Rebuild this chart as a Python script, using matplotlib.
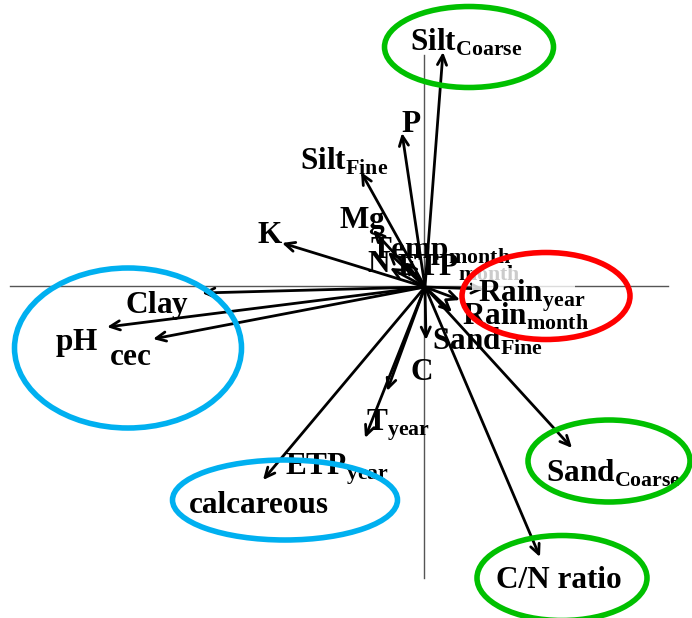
import matplotlib
matplotlib.use("Agg")
import matplotlib.pyplot as plt
from matplotlib.patches import Ellipse, Rectangle

plt.rcParams["mathtext.fontset"] = "custom"
plt.rcParams["mathtext.bf"] = "Liberation Serif:bold"
plt.rcParams["mathtext.rm"] = "Liberation Serif:bold"
plt.rcParams["font.family"] = "Liberation Serif"

# Variable loadings on the first two axes (arbitrary biplot units)
variables = ["Silt_Coarse", "P", "Silt_Fine", "Mg", "K", "Temp_month", "N",
             "ETP_month", "Clay", "pH", "cec", "Rain_year", "Rain_month",
             "Sand_Fine", "C", "T_year", "T_min", "ETP_year", "Sand_Coarse", "CN"]
axis1 = [0.18, -0.23, -0.64, -0.52, -1.43, -0.37, -0.35, -0.20, -2.23, -3.18,
         -2.72, 0.59, 0.35, 0.27, 0.01, -0.60, -0.38, -1.62, 1.47, 1.15]
axis2 = [2.35, 1.54, 1.15, 0.57, 0.44, 0.35, 0.19, 0.25, -0.06, -0.40,
         -0.52, -0.02, -0.13, -0.25, -0.53, -1.51, -1.04, -1.93, -1.61, -2.70]

# Label text and anchor (left, baseline) for each variable
labels = {
    "Silt_Coarse": (r"$\mathbf{Silt}_{\mathbf{Coarse}}$", (-0.15, 2.36)),
    "P": (r"$\mathbf{P}$", (-0.24, 1.55)),
    "Silt_Fine": (r"$\mathbf{Silt}_{\mathbf{Fine}}$", (-1.25, 1.17)),
    "Mg": (r"$\mathbf{Mg}$", (-0.86, 0.59)),
    "K": (r"$\mathbf{K}$", (-1.68, 0.44)),
    "Temp_month": (r"$\mathbf{Temp}_{\mathbf{month}}$", (-0.55, 0.29)),
    "N": (r"$\mathbf{N}$", (-0.58, 0.15)),
    "ETP_month": (r"$\mathbf{ETP}_{\mathbf{month}}$", (-0.28, 0.11)),
    "Clay": (r"$\mathbf{Clay}$", (-3.00, -0.26)),
    "pH": (r"$\mathbf{pH}$", (-3.70, -0.63)),
    "cec": (r"$\mathbf{cec}$", (-3.16, -0.78)),
    "Rain_year": (r"$\mathbf{Rain}_{\mathbf{year}}$", (0.53, -0.15)),
    "Rain_month": (r"$\mathbf{Rain}_{\mathbf{month}}$", (0.37, -0.38)),
    "Sand_Fine": (r"$\mathbf{Sand}_{\mathbf{Fine}}$", (0.07, -0.63)),
    "C": (r"$\mathbf{C}$", (-0.15, -0.93)),
    "T_year": (r"$\mathbf{T}_{\mathbf{year}}$", (-0.59, -1.44)),
    "T_min": ("", (0, 0)),
    "ETP_year": (r"$\mathbf{ETP}_{\mathbf{year}}$", (-1.40, -1.88)),
    "Sand_Coarse": (r"$\mathbf{Sand}_{\mathbf{Coarse}}$", (1.21, -1.95)),
    "CN": ("C/N ratio", (0.71, -3.01)),
}

# Highlighted groups: centre, width, height, colour, extra text
groups = [
    ((0.44, 2.40), 1.69, 0.81, "#00c000", None),
    ((1.21, -0.09), 1.68, 0.87, "#ff0000", None),
    ((-2.97, -0.61), 2.27, 1.60, "#00b0f0", None),
    ((-1.40, -2.13), 2.25, 0.80, "#00b0f0", ("calcareous", (-2.36, -2.26))),
    ((1.84, -1.74), 1.62, 0.82, "#00c000", None),
    ((1.37, -2.91), 1.70, 0.85, "#00c000", None),
]

fig = plt.figure(figsize=(6.92, 6.18), dpi=100)
ax = fig.add_axes([0, 0, 1, 1])
ax.set_xlim(-4.25, 2.67)
ax.set_ylim(-3.31, 2.87)
ax.axis("off")

# Axes through the origin
ax.plot([-4.15, 2.43], [0.01, 0.01], color="#555555", lw=1.0, zorder=1)
ax.plot([-0.01, -0.01], [2.32, -2.91], color="#555555", lw=1.0, zorder=1)

fs = 22.5
for name, x, y in zip(variables, axis1, axis2):
    ax.annotate("", xy=(x, y), xytext=(0, 0),
                arrowprops=dict(arrowstyle="->,head_length=0.7,head_width=0.33",
                                lw=2.0, color="black", shrinkA=0, shrinkB=0),
                zorder=3)
    text, (tx, ty) = labels[name]
    if text and name != "Rain_year":
        ax.text(tx, ty, text, fontsize=fs, fontweight="bold", ha="left",
                va="baseline", color="black", zorder=4)

# faint panel behind the yearly rainfall label
ax.add_patch(Rectangle((0.47, -0.03), 1.03, 0.22, facecolor="white",
                       alpha=0.8, edgecolor="none", zorder=5))
text, (tx, ty) = labels["Rain_year"]
ax.text(tx, ty, text, fontsize=fs, ha="left", va="baseline",
        color="black", zorder=6)

for (cx, cy), w, h, col, extra in groups:
    ax.add_patch(Ellipse((cx, cy), w, h, fill=False, edgecolor=col,
                         lw=4.0, zorder=7))
    if extra:
        ax.text(extra[1][0], extra[1][1], extra[0], fontsize=fs,
                fontweight="bold", ha="left", va="baseline", zorder=8)

fig.savefig("out.png", dpi=100)
